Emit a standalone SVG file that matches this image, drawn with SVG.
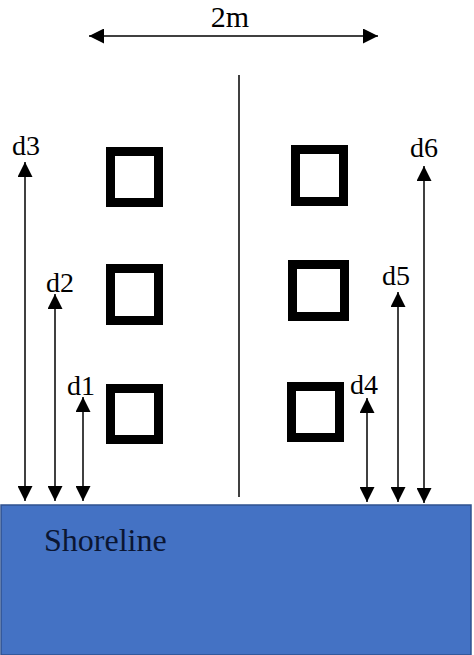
<svg xmlns="http://www.w3.org/2000/svg" width="474" height="655" viewBox="0 0 474 655">
<style>
.t{font-family:"Liberation Serif","Times New Roman",serif;fill:#000}
.ln{stroke:#000;stroke-width:1.5;fill:none}
.sq{fill:none;stroke:#000;stroke-width:9}
</style>
<defs>
<marker id="ah" markerUnits="userSpaceOnUse" markerWidth="15" markerHeight="15" refX="15" refY="7.5" orient="auto-start-reverse">
<path d="M0,0 L15,7.5 L0,15 z" fill="#000"/>
</marker>
</defs>
<rect width="474" height="655" fill="#fff"/>
<g id="shoreline">
<rect x="1" y="505" width="470" height="150" fill="#4472C4" stroke="#2F528F" stroke-width="1.5"/>
<text class="t" x="44" y="551" font-size="32" style="fill:#0b1633">Shoreline</text>
</g>
<g id="squares">
<rect id="sqL1" class="sq" x="110.5" y="151.5" width="48" height="51"/>
<rect id="sqL2" class="sq" x="110.5" y="268.5" width="48" height="52"/>
<rect id="sqL3" class="sq" x="110.5" y="388.5" width="48" height="51"/>
<rect id="sqR1" class="sq" x="295.5" y="149.5" width="48" height="52"/>
<rect id="sqR2" class="sq" x="292.5" y="264.5" width="52" height="52"/>
<rect id="sqR3" class="sq" x="291.5" y="386.5" width="48" height="51"/>
</g>
<g id="labels">
<text class="t" x="230" y="27" font-size="30" text-anchor="middle">2m</text>
<text class="t" x="12" y="155" font-size="28">d3</text>
<text class="t" x="46" y="292" font-size="28">d2</text>
<text class="t" x="67" y="395" font-size="28">d1</text>
<text class="t" x="350" y="394" font-size="28">d4</text>
<text class="t" x="382" y="285" font-size="28">d5</text>
<text class="t" x="410" y="157" font-size="28">d6</text>
</g>
<g id="connectors">
<line class="ln" x1="89" y1="36" x2="378" y2="36" marker-start="url(#ah)" marker-end="url(#ah)"/>
<line class="ln" x1="239" y1="75" x2="239" y2="497"/>
<line class="ln" x1="25" y1="162" x2="25" y2="501" marker-start="url(#ah)" marker-end="url(#ah)"/>
<line class="ln" x1="55" y1="294" x2="55" y2="501" marker-start="url(#ah)" marker-end="url(#ah)"/>
<line class="ln" x1="83" y1="397" x2="83" y2="501" marker-start="url(#ah)" marker-end="url(#ah)"/>
<line class="ln" x1="367" y1="398" x2="367" y2="502" marker-start="url(#ah)" marker-end="url(#ah)"/>
<line class="ln" x1="398" y1="292" x2="398" y2="502" marker-start="url(#ah)" marker-end="url(#ah)"/>
<line class="ln" x1="424" y1="166" x2="424" y2="503" marker-start="url(#ah)" marker-end="url(#ah)"/>
</g>
</svg>
